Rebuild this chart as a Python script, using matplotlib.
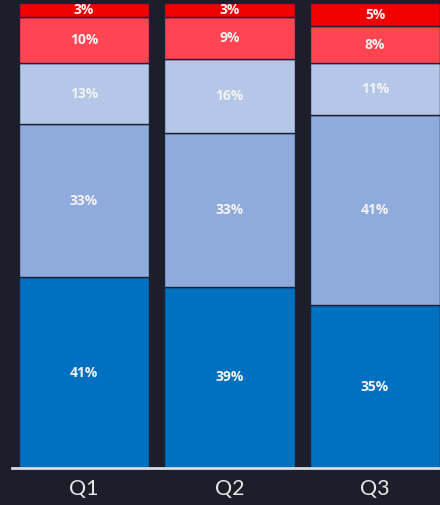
import matplotlib.pyplot as plt
import numpy as np

# share of responses per quarter, bottom to top
quarters = ["Q1", "Q2", "Q3"]
seg_a = [41, 39, 35]
seg_b = [33, 33, 41]
seg_c = [13, 16, 11]
seg_d = [10, 9, 8]
seg_e = [3, 3, 5]

colors = ["#0070c0", "#8faadc", "#b4c7e7", "#ff4552", "#f20000"]
bg = "#1c1f2a"

fig = plt.figure(figsize=(4.40, 5.05), dpi=100, facecolor=bg)
ax = fig.add_axes([0, 37 / 505, 1, 465 / 505])
ax.set_facecolor(bg)

x = np.arange(len(quarters))
bottom = np.zeros(len(quarters))
for vals, col in zip([seg_a, seg_b, seg_c, seg_d, seg_e], colors):
    vals = np.array(vals)
    ax.bar(x, vals, width=0.9, bottom=bottom, color=col,
           edgecolor="#1a2338", linewidth=1.0)
    for xi, b, v in zip(x, bottom, vals):
        ax.text(xi, b + v / 2, f"{v}%", ha="center", va="center",
                color="#f2f2f2", fontsize=10, fontweight="bold",
                family="Open Sans")
    bottom += vals

ax.set_xlim(-84 / 145.5, (440 - 84) / 145.5)
ax.set_ylim(0, 100)
ax.axhline(0, xmin=12 / 440, xmax=1, color="#d8dce4", lw=2, clip_on=False)

for s in ax.spines.values():
    s.set_visible(False)
ax.set_yticks([])
ax.set_xticks(x)
ax.set_xticklabels(quarters, color="#e6e6e6", fontsize=15.5, family="Lato")
ax.tick_params(axis="x", length=0, pad=8)

fig.savefig("out.png", dpi=100, facecolor=bg)
